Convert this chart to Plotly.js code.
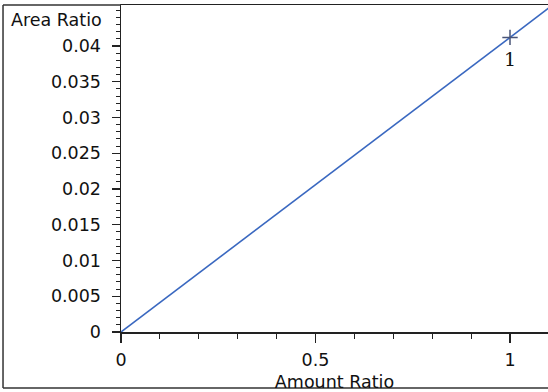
<!DOCTYPE html>
<html>
<head>
<meta charset="utf-8">
<script src="https://cdn.plot.ly/plotly-3.0.1.min.js"></script>
<style>
  html, body { margin: 0; padding: 0; background: #fff; }
  #chart { width: 548px; height: 392px; }
</style>
</head>
<body>
<div id="chart"></div>
<script>
// Calibration line (amount ratio vs area ratio)
const lineX = [0, 1.1];
const lineY = [0, 0.04532];

// Calibration point
const pointX = [1];
const pointY = [0.0412];
const pointLabels = ['1'];

// Axis tick labels
const xTickVals = [0, 0.5, 1];
const xTickText = ['0', '0.5', '1'];
const yTickVals = [0, 0.005, 0.01, 0.015, 0.02, 0.025, 0.03, 0.035, 0.04];
const yTickText = ['0', '0.005', '0.01', '0.015', '0.02', '0.025', '0.03', '0.035', '0.04'];

const axisColor = '#222';
const font = { family: 'DejaVu Sans, Arial, sans-serif', size: 17.5, color: '#111' };

const traces = [
  {
    x: lineX, y: lineY, mode: 'lines', type: 'scatter',
    line: { color: '#3a68c0', width: 1.6 }, hoverinfo: 'skip'
  },
  {
    x: pointX, y: pointY, mode: 'markers', type: 'scatter',
    marker: { symbol: 'cross-thin', size: 11, line: { color: '#4a5578', width: 1.5 } }
  }
];

// point labels sit just under each point
const pointAnnotations = pointX.map((x, i) => ({
  text: pointLabels[i], x: x, y: pointY[i], xref: 'x', yref: 'y',
  showarrow: false, yshift: -22,
  font: { family: 'DejaVu Serif, serif', size: 19, color: '#111' }
}));

const layout = {
  width: 548, height: 392,
  margin: { l: 121, r: 0, t: 5, b: 60 },
  paper_bgcolor: '#fff', plot_bgcolor: '#fff',
  showlegend: false,
  font: font,
  xaxis: {
    range: [0, 1.0977], showgrid: false, zeroline: false,
    showline: true, linecolor: axisColor, linewidth: 1.5, mirror: true,
    ticks: 'outside', ticklen: 9, tickwidth: 1.2, tickcolor: axisColor,
    tickvals: xTickVals, ticktext: xTickText,
    minor: { dtick: 0.1, tick0: 0, ticks: 'outside', ticklen: 5, tickwidth: 1, tickcolor: axisColor, showgrid: false },
    tickfont: font, ticklabelstandoff: 2,
    title: { text: 'Amount Ratio', font: font, standoff: 7 }
  },
  yaxis: {
    range: [0, 0.04573], showgrid: false, zeroline: false,
    showline: true, linecolor: axisColor, linewidth: 1.5,
    ticks: 'outside', ticklen: 8, tickwidth: 1.2, tickcolor: axisColor,
    tickvals: yTickVals, ticktext: yTickText,
    minor: { dtick: 0.001, tick0: 0, ticks: 'outside', ticklen: 4, tickwidth: 1, tickcolor: axisColor, showgrid: false },
    tickfont: font, ticklabelstandoff: 7
  },
  annotations: [
    {
      text: 'Area Ratio', xref: 'paper', yref: 'paper',
      x: -0.262, y: 0.954, xanchor: 'left', yanchor: 'middle',
      showarrow: false, font: font
    }
  ].concat(pointAnnotations),
  shapes: [
    // frame around the whole figure
    { type: 'line', xref: 'paper', yref: 'paper', x0: -0.2763, x1: -0.2763, y0: 1.0, y1: -0.1713, line: { color: '#333', width: 1.5 } },
    { type: 'line', xref: 'paper', yref: 'paper', x0: -0.2763, x1: 1.0, y0: -0.1713, y1: -0.1713, line: { color: '#333', width: 1.5 } },
    { type: 'line', xref: 'paper', yref: 'paper', x0: -0.2763, x1: 0, y0: 1.0, y1: 1.0, line: { color: '#333', width: 1.5 } }
  ]
};

Plotly.newPlot('chart', traces, layout, { displayModeBar: false, staticPlot: true });
</script>
</body>
</html>
